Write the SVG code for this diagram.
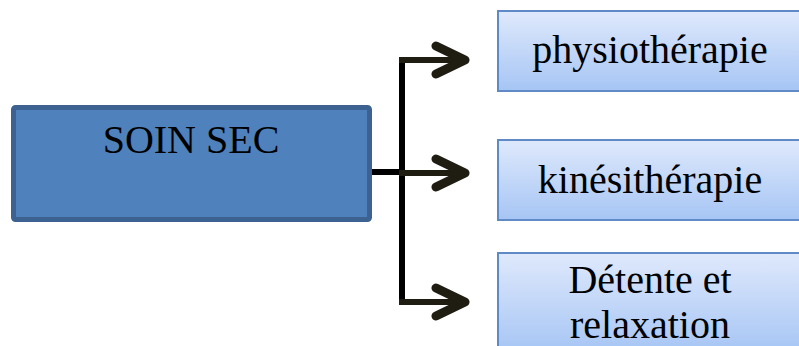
<svg xmlns="http://www.w3.org/2000/svg" width="799" height="346" viewBox="0 0 799 346">
<defs>
<linearGradient id="lb" x1="0" y1="0" x2="0" y2="1">
<stop offset="0" stop-color="#dfe9fc"/>
<stop offset="1" stop-color="#a6c5f4"/>
</linearGradient>
<style>
.t{font-family:"Liberation Serif","Times New Roman",serif;font-size:40px;fill:#000;text-anchor:middle}
.sub{fill:url(#lb);stroke:#5f8ac6;stroke-width:2}
.ln{stroke:#000;stroke-width:6;fill:none}
.ar{stroke:#1f1d12;stroke-width:6;fill:none}
.hd{stroke:#1f1d12;stroke-width:9;fill:none;stroke-linecap:round;stroke-linejoin:round}
</style>
</defs>
<rect width="799" height="346" fill="#fff"/>
<g id="soin-sec">
<rect x="13.5" y="107.5" width="356" height="112" rx="2" fill="#4f81bd" stroke="#3d6190" stroke-width="5"/>
<text class="t" x="191" y="153">SOIN SEC</text>
</g>
<g id="connectors">
<path class="ln" d="M372 172H402M402 57V303"/>
<path class="ar" d="M399 60H462M399 173H462M399 302H462"/>
<path class="hd" d="M436 46L465 60L436 74M436 159L465 173L436 187M436 288L465 302L436 316"/>
</g>
<g id="physiotherapie">
<rect class="sub" x="498" y="11" width="302" height="80"/>
<text class="t" x="650" y="63">physiothérapie</text>
</g>
<g id="kinesitherapie">
<rect class="sub" x="498" y="140" width="302" height="80"/>
<text class="t" x="650" y="193">kinésithérapie</text>
</g>
<g id="detente">
<rect class="sub" x="498" y="253" width="302" height="100"/>
<text class="t" x="650" y="293">Détente et</text>
<text class="t" x="650" y="338">relaxation</text>
</g>
</svg>
